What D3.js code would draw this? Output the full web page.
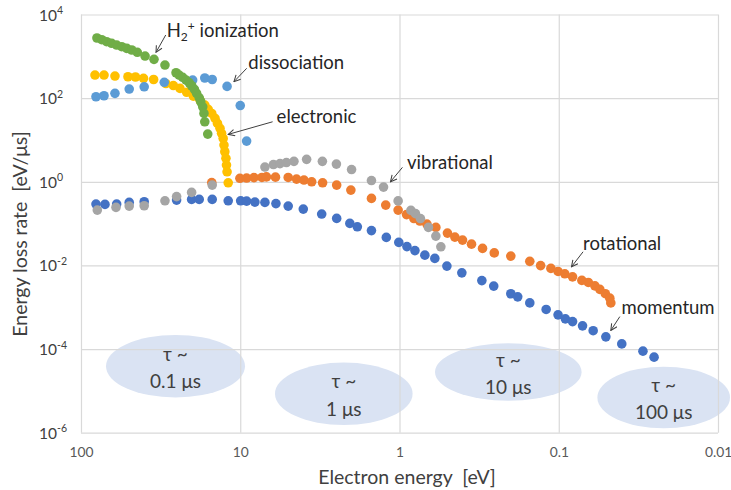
<!DOCTYPE html>
<html>
<head>
<meta charset="utf-8">
<script src="https://cdn.jsdelivr.net/npm/d3@7"></script>
<style>
  html, body { margin: 0; padding: 0; background: #fff; }
  svg { display: block; }
  text { font-family: Lato, "Open Sans", sans-serif; white-space: pre; }
</style>
</head>
<body>
<svg id="chart" width="731" height="490"></svg>
<script>
// ---------------- DATA ----------------
const xTickValues = [100, 10, 1, 0.1, 0.01];
const xTickLabels = ["100", "10", "1", "0.1", "0.01"];
const yTickValues = [1e4, 1e2, 1, 1e-2, 1e-4, 1e-6];
const yTickExponents = ["4", "2", "0", "-2", "-4", "-6"];

const xTitle = "Electron energy  [eV]";
const yTitle = "Energy loss rate  [eV/\u03bcs]";

// series (drawing order: first at the bottom)
const seriesNames = ["momentum", "rotational", "vibrational", "electronic", "dissociation", "ionization"];

const momentumE = [80.5,70.7,59.7,49.8,40.1,25.1,20.2,18.1,15.0,11.9,9.94,9.12,8.09,7.0,5.97,5.0,4.02,3.08,2.48,2.05,1.84,1.50,1.21,1.01,0.898,0.80,0.693,0.60,0.504,0.406,0.304,0.256,0.20,0.181,0.152,0.12,0.101,0.0909,0.0819,0.0709,0.0608,0.0506,0.0402,0.0296,0.0252];
const momentumR = [0.293,0.288,0.293,0.321,0.333,0.365,0.379,0.379,0.379,0.351,0.351,0.345,0.327,0.321,0.301,0.262,0.222,0.169,0.133,0.101,0.0838,0.0681,0.0468,0.0355,0.0282,0.0226,0.0176,0.0147,0.00962,0.00665,0.00433,0.0032,0.0021,0.00177,0.00127,0.000885,0.000658,0.000528,0.000453,0.000359,0.000275,0.000196,0.000133,0.0000891,0.000064];

const rotationalE = [15.1,10.05,9.12,8.2,7.31,6.85,6.01,5.0,4.43,3.98,3.56,3.04,2.48,2.02,1.50,1.22,1.02,0.903,0.812,0.745,0.673,0.591,0.50,0.449,0.402,0.353,0.301,0.254,0.20,0.152,0.130,0.112,0.101,0.0916,0.0819,0.0716,0.0652,0.0593,0.0552,0.051,0.0478,0.0471];
const rotationalR = [0.957,1.21,1.23,1.26,1.27,1.31,1.29,1.27,1.16,1.10,1.0,0.946,0.834,0.633,0.401,0.277,0.210,0.164,0.132,0.115,0.0972,0.0811,0.0593,0.0475,0.0403,0.0323,0.0255,0.020,0.0167,0.0125,0.00989,0.00848,0.00718,0.0063,0.00533,0.00438,0.00392,0.00325,0.00268,0.00211,0.00165,0.00127];

const vibrationalE = [79.0,60.3,49.8,40.1,29.7,25.1,20.2,15.0,7.0,6.19,5.63,5.13,4.60,3.83,3.05,2.49,2.0,1.50,1.26,1.02,0.848,0.794,0.739,0.658,0.591,0.55];
const vibrationalR = [0.210,0.244,0.262,0.267,0.351,0.442,0.557,0.834,2.25,2.58,2.72,2.88,3.08,3.44,3.08,2.65,1.96,1.07,0.746,0.349,0.207,0.173,0.132,0.0811,0.0502,0.0279];

const electronicE = [81.7,71.7,61.2,50.7,45.5,40.5,35.0,29.3,26.3,23.9,21.7,19.7,17.9,16.7,15.9,15.1,14.4,13.9,13.4,13.1,12.8,12.65,12.5,12.3,12.2,12.1,11.9];
const electronicR = [357,357,338,325,320,298,279,223,200,171,138,112,90,68,54,43,32.9,24.9,19.0,14.4,10.9,7.55,5.22,3.63,2.51,1.73,0.946];

const dissociationE = [80.5,71.7,61.2,49.8,40.1,30.0,19.9,16.7,15.0,12.1,10.0,9.12];
const dissociationR = [108,114,130,165,187,239,271,303,279,191,66.5,9.4];

const ionizationE = [79.4,74.1,69.0,64.2,59.7,55.5,51.6,48.0,44.3,39.6,34.8,29.7,25.3,24.2,23.0,21.9,20.9,20.2,19.4,18.8,18.1,17.7,17.2,16.9,16.7,16.0];
const ionizationR = [2740,2495,2234,2046,1862,1698,1552,1416,1247,1016,847,619,405,357,315,271,233,198,162,130,102,82,62,43,27.2,13.8];

// annotation labels and the data point each arrow points to
const annotationLabels = ["H2+ ionization", "dissociation", "electronic", "vibrational", "rotational", "momentum"];
const annotationTipE = [33.8, 10.95, 11.9, 1.14, 0.0832, 0.0471];
const annotationTipR = [1247, 247, 13.6, 1.0, 0.00927, 0.000279];

// lifetime bubbles
const tauLines1 = ["\u03c4 ~", "\u03c4 ~", "\u03c4 ~", "\u03c4 ~"];
const tauLines2 = ["0.1 \u03bcs", "1 \u03bcs", "10 \u03bcs", "100 \u03bcs"];

// ---------------- STYLE / LAYOUT ----------------
const plot = { left: 81, right: 718, top: 14.5, bottom: 432.7 };
const colors = {
  momentum: "#4472C4", rotational: "#ED7D31", vibrational: "#A5A5A5",
  electronic: "#FFC000", dissociation: "#5B9BD5", ionization: "#70AD47"
};
const markerR = 4.8;
// arrow tail / text offsets (px) relative to arrow tips
const annotationLayout = [
  { tail: [9.7, -17.3], text: [10.7, -21.5] },
  { tail: [12.7, -13.4], text: [14.3, -18.4] },
  { tail: [44.4, -12.6], text: [48.4, -17.6] },
  { tail: [12, -14.4], text: [16.6, -18.4] },
  { tail: [11.6, -15], text: [11.6, -22.4] },
  { tail: [9, -13.8], text: [10.7, -22] }
];
const bubbleLayout = [
  { cx: 175.5, cy: 366.2, rx: 69.5, ry: 31.2 },
  { cx: 343.8, cy: 393.8, rx: 68.8, ry: 31.2 },
  { cx: 508.3, cy: 372.0, rx: 73.3, ry: 28.7 },
  { cx: 663.7, cy: 397.5, rx: 66.3, ry: 30.8 }
];

// ---------------- DRAW ----------------
const svg = d3.select("#chart");
const x = d3.scaleLog().domain([100, 0.01]).range([plot.left, plot.right]);
const y = d3.scaleLog().domain([1e-6, 1e4]).range([plot.bottom, plot.top]);

svg.append("defs").append("marker")
  .attr("id", "arrow").attr("viewBox", "0 0 10 10")
  .attr("refX", 9).attr("refY", 5)
  .attr("markerWidth", 8).attr("markerHeight", 8)
  .attr("markerUnits", "userSpaceOnUse")
  .attr("orient", "auto")
  .append("path").attr("d", "M1,1 L9,5 L1,9")
  .attr("fill", "none").attr("stroke", "#404040").attr("stroke-width", 1.3);

// bubbles
const bubbles = svg.append("g");
bubbleLayout.forEach(b => {
  bubbles.append("ellipse").attr("cx", b.cx).attr("cy", b.cy).attr("rx", b.rx).attr("ry", b.ry)
    .attr("fill", "#DAE3F3");
});

// gridlines + axes
const xAxis = d3.axisBottom(x).tickValues(xTickValues)
  .tickSize(-(plot.bottom - plot.top)).tickPadding(15)
  .tickFormat((d, i) => xTickLabels[i]);
const gx = svg.append("g").attr("transform", `translate(0,${plot.bottom})`).call(xAxis);
gx.select(".domain").remove();
gx.selectAll("line").attr("stroke", "#D9D9D9").attr("stroke-width", 1.2);
gx.selectAll("text").attr("fill", "#595959").attr("font-size", 13.8)
  .attr("font-family", "Lato, sans-serif");

const yAxis = d3.axisLeft(y).tickValues(yTickValues)
  .tickSize(-(plot.right - plot.left)).tickPadding(8).tickFormat(() => "");
const gy = svg.append("g").attr("transform", `translate(${plot.left},0)`).call(yAxis);
gy.select(".domain").remove();
gy.selectAll("line").attr("stroke", "#D9D9D9").attr("stroke-width", 1.2);
gy.selectAll(".tick").each(function (d, i) {
  const t = d3.select(this).select("text")
    .attr("x", null).attr("dy", null)
    .attr("text-anchor", "start")
    .attr("font-family", "Lato, sans-serif")
    .attr("fill", "#404040")
    .attr("transform", "translate(-42,5.5)");
  t.text(null);
  t.append("tspan").attr("font-size", 15.5).text("10");
  t.append("tspan").attr("font-size", 10.5).attr("dy", -6.5).text(yTickExponents[i]);
});

// series
const seriesData = {
  momentum: [momentumE, momentumR],
  rotational: [rotationalE, rotationalR],
  vibrational: [vibrationalE, vibrationalR],
  electronic: [electronicE, electronicR],
  dissociation: [dissociationE, dissociationR],
  ionization: [ionizationE, ionizationR]
};
seriesNames.forEach(name => {
  const [E, R] = seriesData[name];
  const pts = E.map((e, i) => ({ e, r: R[i] }));
  svg.append("g").selectAll("circle").data(pts).join("circle")
    .attr("cx", d => x(d.e)).attr("cy", d => y(d.r)).attr("r", markerR)
    .attr("fill", colors[name]);
});

// annotations
const ann = svg.append("g");
annotationLabels.forEach((label, i) => {
  const tx = x(annotationTipE[i]), ty = y(annotationTipR[i]);
  const L = annotationLayout[i];
  ann.append("line")
    .attr("x1", tx + L.tail[0]).attr("y1", ty + L.tail[1])
    .attr("x2", tx).attr("y2", ty)
    .attr("stroke", "#404040").attr("stroke-width", 1)
    .attr("marker-end", "url(#arrow)");
  const t = ann.append("text")
    .attr("x", tx + L.text[0]).attr("y", ty + L.text[1] + 6)
    .attr("font-size", 18.5).attr("fill", "#262626");
  if (label.startsWith("H2+")) {
    t.append("tspan").text("H");
    t.append("tspan").attr("font-size", 12).attr("dy", 4).text("2");
    t.append("tspan").attr("font-size", 12).attr("dy", -11).text("+");
    t.append("tspan").attr("dy", 7).text(" ionization");
  } else {
    t.text(label);
  }
});

// bubble texts
bubbleLayout.forEach((b, i) => {
  bubbles.append("text").attr("x", b.cx).attr("y", b.cy - 10.5 + 5)
    .attr("text-anchor", "middle").attr("font-size", 19).attr("fill", "#404040")
    .text(tauLines1[i]);
  bubbles.append("text").attr("x", b.cx).attr("y", b.cy + 14.7 + 7)
    .attr("text-anchor", "middle").attr("font-size", 19).attr("fill", "#404040")
    .text(tauLines2[i]);
});

// axis titles
svg.append("text").attr("x", 407).attr("y", 484)
  .attr("text-anchor", "middle").attr("font-size", 19.5).attr("fill", "#404040")
  .text(xTitle);
svg.append("text").attr("transform", "translate(27,234) rotate(-90)")
  .attr("text-anchor", "middle").attr("font-size", 19.5).attr("fill", "#404040")
  .text(yTitle);
</script>
</body>
</html>
